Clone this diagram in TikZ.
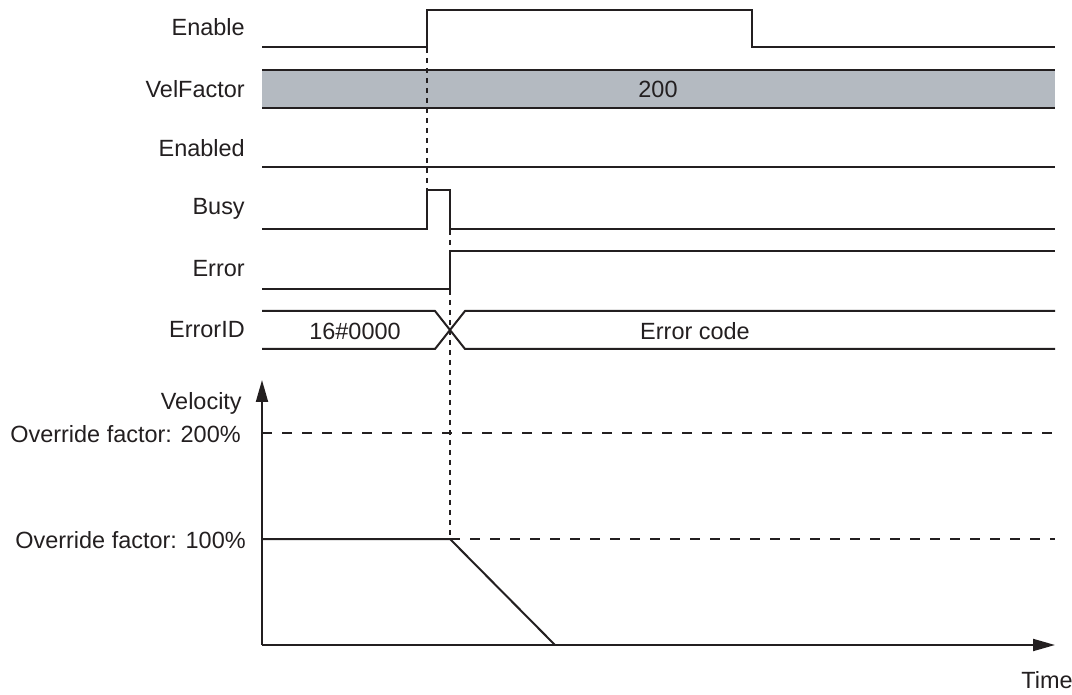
\documentclass[tikz,border=0pt]{standalone}
\usepackage{fontspec}
\setmainfont{Liberation Sans}
\usetikzlibrary{arrows.meta}
\definecolor{ink}{RGB}{35,31,32}
\definecolor{band}{RGB}{180,186,193}
\begin{document}
\begin{tikzpicture}[x=0.75pt,y=-0.75pt,
  sig/.style={draw=ink,line width=1.5pt,line join=miter},
  vdash/.style={draw=ink,line width=0.8pt,dash pattern=on 4pt off 3.5pt},
  hdash/.style={draw=ink,line width=1.2pt,dash pattern=on 7.5pt off 7.5pt},
  lbl/.style={anchor=east,inner sep=0pt,text=ink,font=\fontsize{17.6}{20}\selectfont},
  txt/.style={inner sep=0pt,text=ink,font=\fontsize{17.6}{20}\selectfont},
  axis/.style={draw=ink,line width=1.5pt,-{Triangle[length=16.5pt,width=9pt]}}]
\useasboundingbox (0,0) rectangle (1072,695);
% labels
\node[lbl] (lEnable) at (245,27) {Enable};
\node[lbl] (lVel) at (245,89) {VelFactor};
\node[lbl] (lEnabled) at (245,148) {Enabled};
\node[lbl] (lBusy) at (245,209) {Busy};
\node[lbl] (lError) at (245,269) {Error};
\node[lbl] (lErrorID) at (245,330) {ErrorID};
% VelFactor band
\fill[band] (262,70) rectangle (1055,108);
\draw[sig] (262,70) -- (1055,70);
\draw[sig] (262,108) -- (1055,108);
\node[txt] (v200) at (658,89) {200};
% Enable
\draw[sig] (262,47) -- (427,47) -- (427,10) -- (752,10) -- (752,47) -- (1055,47);
% Enabled
\draw[sig] (262,167) -- (1055,167);
% Busy
\draw[sig] (262,229) -- (427,229) -- (427,190) -- (450,190) -- (450,229) -- (1055,229);
% Error
\draw[sig] (262,289) -- (450,289) -- (450,251) -- (1055,251);
% ErrorID
\draw[sig] (262,311) -- (435,311) -- (465,349) -- (1055,349);
\draw[sig] (262,349) -- (435,349) -- (465,311) -- (1055,311);
\node[txt] (e0) at (355,331) {16\#0000};
\node[txt] (ecode) at (695,331) {Error code};
% dashed verticals
\draw[vdash] (427,48) -- (427,190);
\draw[vdash] (450,230) -- (450,539);
% velocity chart
\coordinate (O) at (262,645);
\coordinate (Ytip) at (262,380);
\coordinate (Xtip) at (1055,645);
\draw[hdash] (262,433) -- (1055,433);
\draw[hdash] (450,539) -- (1055,539);
\draw[sig] (262,539) -- (450,539) -- (555,645);
\draw[axis] (O) -- (Ytip);
\draw[axis] (O) -- (Xtip);
\node[lbl] (lv) at (242,403) {Velocity};
\node[lbl] (l200) at (241,434) {Override factor: 200\%};
\node[lbl] (l100) at (246,540) {Override factor: 100\%};
\node[txt] (ltime) at (1047,680) {Time};
\end{tikzpicture}
\end{document}
